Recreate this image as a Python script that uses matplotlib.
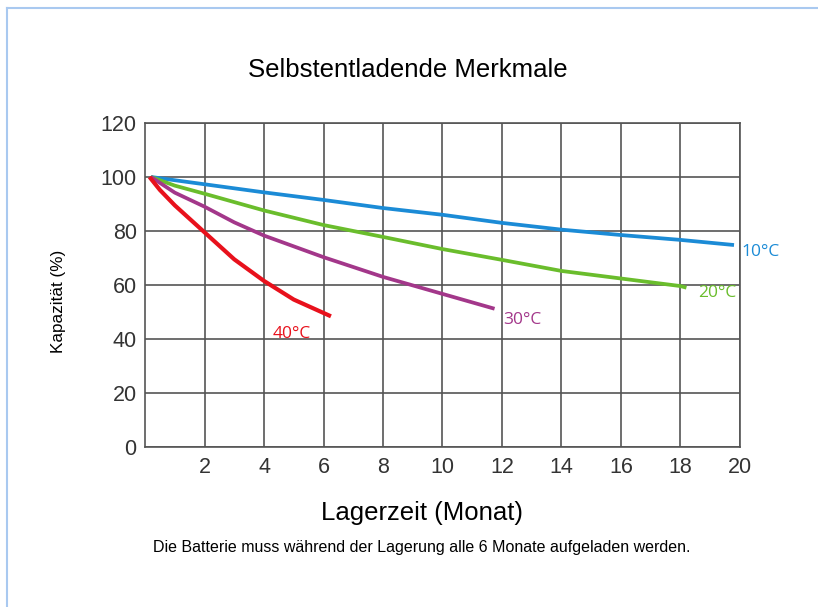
import matplotlib.pyplot as plt
from matplotlib.lines import Line2D

plt.rcParams['font.family'] = ['Liberation Sans', 'DejaVu Sans']

# Kapazität (%) je Lagerzeit (Monat)
m_10 = [0.2, 2, 4, 6, 8, 10, 12, 14, 16, 18, 19.8]
k_10 = [100, 97.3, 94.3, 91.5, 88.5, 86, 83, 80.5, 78.5, 76.7, 74.8]

m_20 = [0.2, 1, 2, 4, 6, 8, 10, 12, 14, 16, 18, 18.2]
k_20 = [100, 96.8, 93.8, 87.6, 82.2, 77.8, 73.3, 69.3, 65.2, 62.4, 59.6, 59]

m_30 = [0.2, 1, 2, 3, 4, 6, 8, 10, 11.75]
k_30 = [100, 94.2, 89, 83.2, 78.3, 70.3, 63, 56.7, 51.2]

m_40 = [0.15, 0.5, 1, 2, 3, 4, 5, 6.25]
k_40 = [100, 95.2, 89.5, 79.5, 69.5, 61.5, 54.6, 48.4]

labels = ['10°C', '20°C', '30°C', '40°C']
colors = ['#1b8bd6', '#6abd2c', '#a3378a', '#e8111c']
label_pos = [(20.05, 72.2), (18.6, 57), (12.05, 47), (4.3, 42)]

fig = plt.figure(figsize=(8.18, 6.07), dpi=100)
ax = fig.add_axes([0.1773, 0.2636, 0.7273, 0.5338])

series = [(m_10, k_10), (m_20, k_20), (m_30, k_30), (m_40, k_40)]
for (m, k), lab, c, pos in zip(series, labels, colors, label_pos):
    lw = 3.0 if lab == '40°C' else 2.7
    ax.plot(m, k, color=c, lw=lw, solid_capstyle='butt', solid_joinstyle='round', zorder=3)
    ax.text(pos[0], pos[1], lab, color=c, fontsize=12.5, fontfamily=['Open Sans', 'DejaVu Sans'],
            va='center', ha='left')

ax.set_xlim(0, 20)
ax.set_ylim(0, 120)
ax.set_xticks(range(2, 21, 2))
ax.set_yticks(range(0, 121, 20))
ax.grid(True, color='#555555', lw=1.2)
ax.set_axisbelow(True)
for s in ax.spines.values():
    s.set_color('#555555')
    s.set_linewidth(1.2)
ax.tick_params(length=0, labelsize=15.5, colors='#333333')
ax.tick_params(axis='x', pad=7)
ax.tick_params(axis='y', pad=6)

fig.text(0.4988, 0.8847, 'Selbstentladende Merkmale', ha='center', va='center', fontsize=18.5)
ax.set_xlabel('Lagerzeit (Monat)', fontsize=18.5, labelpad=17)
ax.xaxis.label.set_x(0.4655)
ax.set_ylabel('Kapazität (%)', fontsize=12.3, labelpad=25)
ax.yaxis.label.set_y(0.45)

fig.text(0.516, 0.0988, 'Die Batterie muss während der Lagerung alle 6 Monate aufgeladen werden.',
         ha='center', va='center', fontsize=11.5)

# blauer Rahmen oben und links
fig.add_artist(Line2D([0.008, 1.0], [0.986, 0.986], color='#a9c9f0', lw=1.5))
fig.add_artist(Line2D([0.008, 0.008], [0.0, 0.986], color='#a9c9f0', lw=1.5))

fig.savefig('out.png', dpi=100)
